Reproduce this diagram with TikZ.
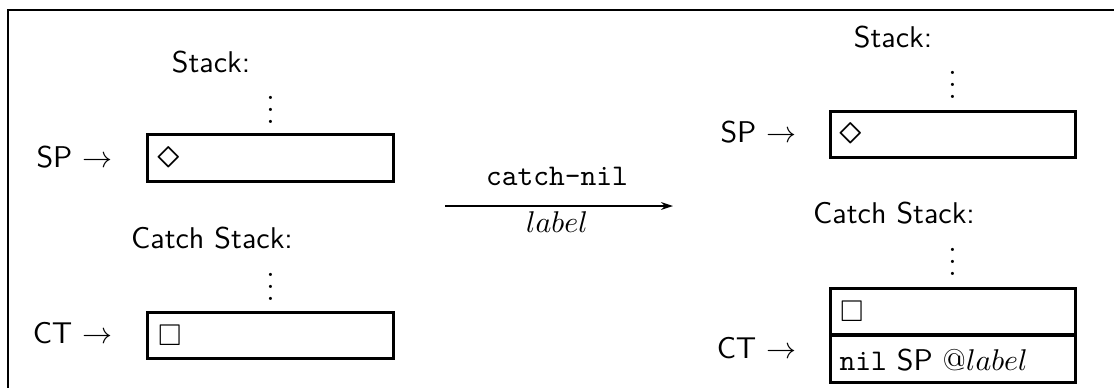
\documentclass[tikz,border=0pt]{standalone}
\usepackage{amssymb}
\usetikzlibrary{calc,arrows.meta}
\newcommand{\mydiam}{\scalebox{1.5}{$\diamond$}}
\begin{document}
\begin{tikzpicture}[x=0.33333pt,y=-0.33333pt,
  cell/.style={draw,line width=1pt,minimum width=81.67pt,minimum height=15.6pt,inner sep=0pt},
  txt/.style={inner sep=0pt,font=\sffamily},
  sym/.style={inner sep=0pt,anchor=west},
  frameline/.style={line width=0.6pt},
  trans/.style={line width=0.45pt,-{Stealth[length=4pt,width=2.6pt]}}]
\useasboundingbox (0,0) rectangle (1114,387);
% frame (clipped at right and bottom)
\draw[frameline] (8,390) -- (8,10) -- (1120,10);

% ---------- left state ----------
\node[txt,anchor=base] (lstack) at (211,72) {Stack:};
\node[inner sep=0pt,anchor=base] (ldots1) at (270.5,123) {$\vdots$};
\node[cell] (lsp) at (270.5,158) {};
\node[sym] (lspt) at ($(lsp.west)+(10,0)$) {\mydiam};
\node[txt,anchor=base east] (lsplab) at (113,167) {SP $\rightarrow$};

\node[txt,anchor=base] (lcatch) at (212,248) {Catch Stack:};
\node[inner sep=0pt,anchor=base] (ldots2) at (270.5,300) {$\vdots$};
\node[cell] (lct) at (270.5,335.5) {};
\node[sym] (lctt) at ($(lct.west)+(11,0)$) {$\square$};
\node[txt,anchor=base east] (lctlab) at (113,343) {CT $\rightarrow$};

% ---------- transition ----------
\coordinate (a1) at (445,206);
\coordinate (a2) at (673,206);
\draw[trans] (a1) -- (a2);
\node[inner sep=0pt,anchor=base] (tname) at (557,185) {\texttt{catch-nil}};
\node[inner sep=0pt,anchor=base] (tlab) at (557,232) {$label$};

% ---------- right state ----------
\node[txt,anchor=base] (rstack) at (893,47) {Stack:};
\node[inner sep=0pt,anchor=base] (rdots1) at (952.5,98) {$\vdots$};
\node[cell] (rsp) at (952.5,134.5) {};
\node[sym] (rspt) at ($(rsp.west)+(10,0)$) {\mydiam};
\node[txt,anchor=base east] (rsplab) at (797,142) {SP $\rightarrow$};

\node[txt,anchor=base] (rcatch) at (894,223) {Catch Stack:};
\node[inner sep=0pt,anchor=base] (rdots2) at (952.5,275) {$\vdots$};
\node[cell] (rct1) at (952.5,311.5) {};
\node[sym] (rct1t) at ($(rct1.west)+(11,0)$) {$\square$};
\node[cell] (rct2) at (952.5,359) {};
\node[txt,anchor=base west] (rct2t) at (839,370) {\texttt{nil} SP $@label$};
\node[txt,anchor=base east] (rctlab) at (797,358) {CT $\rightarrow$};
\end{tikzpicture}
\end{document}
